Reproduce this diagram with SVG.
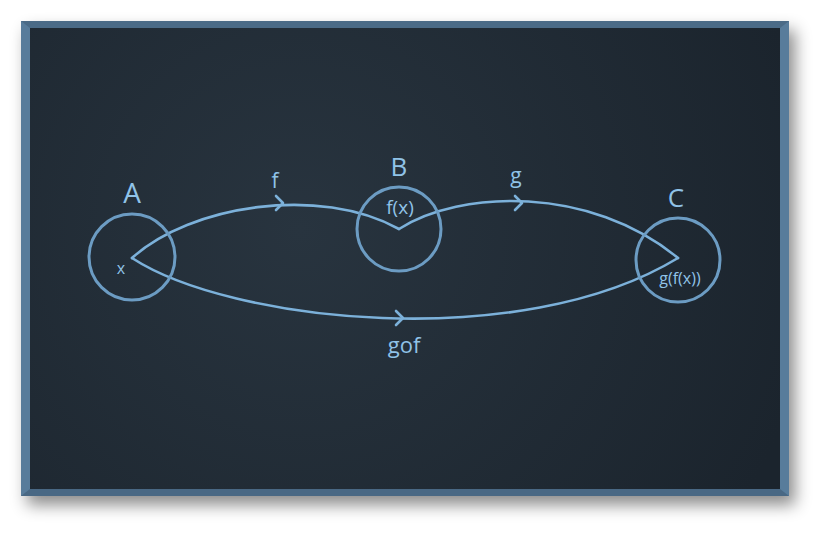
<svg xmlns="http://www.w3.org/2000/svg" width="831" height="538" viewBox="0 0 831 538">
<defs>
<radialGradient id="bg" cx="300" cy="230" r="520" gradientUnits="userSpaceOnUse">
<stop offset="0" stop-color="#28343f"/>
<stop offset="1" stop-color="#1b242d"/>
</radialGradient>
<filter id="sh" x="-10%" y="-10%" width="125%" height="130%">
<feDropShadow dx="6" dy="9" stdDeviation="8" flood-color="#000" flood-opacity="0.45"/>
</filter>
<style>
.ln{fill:none;stroke:#7cb1da;stroke-width:2.6;stroke-linejoin:round;stroke-linecap:round}
.nd{fill:none;stroke:#6c9cc3;stroke-width:3}
.t{font-family:"Open Sans","Noto Sans",sans-serif;fill:#90c3e8;text-anchor:middle}
</style>
</defs>
<g id="frame">
<rect x="21" y="21" width="768" height="475" fill="#587b9b" filter="url(#sh)"/>
<polygon points="21,21 789,21 780,28 30,28" fill="#4b6b87"/>
<polygon points="21,496 789,496 780,489 30,489" fill="#496884"/>
<rect x="30" y="28" width="750" height="461" fill="url(#bg)"/>
</g>
<g id="connectors">
<path class="ln" d="M132,258 C190,205 320,185 399,229"/>
<path class="ln" d="M276,196 L283,203 L276,210"/>
<path class="ln" d="M399,229 C460,190 590,185 678,258"/>
<path class="ln" d="M515,196 L522,203 L515,210"/>
<path class="ln" d="M132,258 C230,322 520,354 678,258"/>
<path class="ln" d="M396,311 L403,318 L396,325"/>
</g>
<g id="labels">
<text class="t" x="275" y="188" font-size="21">f</text>
<text class="t" x="516" y="183" font-size="21">g</text>
<text class="t" x="404" y="353" font-size="22">gof</text>
</g>
<g id="nodeA">
<circle class="nd" cx="132" cy="257" r="43"/>
<text class="t" x="132" y="203" font-size="28">A</text>
<text class="t" x="121" y="274" font-size="16">x</text>
</g>
<g id="nodeB">
<circle class="nd" cx="399" cy="229" r="42"/>
<text class="t" x="399" y="176" font-size="26">B</text>
<text class="t" x="400" y="214" font-size="19">f(x)</text>
</g>
<g id="nodeC">
<circle class="nd" cx="678" cy="260" r="42"/>
<text class="t" x="676" y="207" font-size="26">C</text>
<text class="t" x="680" y="284" font-size="16">g(f(x))</text>
</g>
</svg>
